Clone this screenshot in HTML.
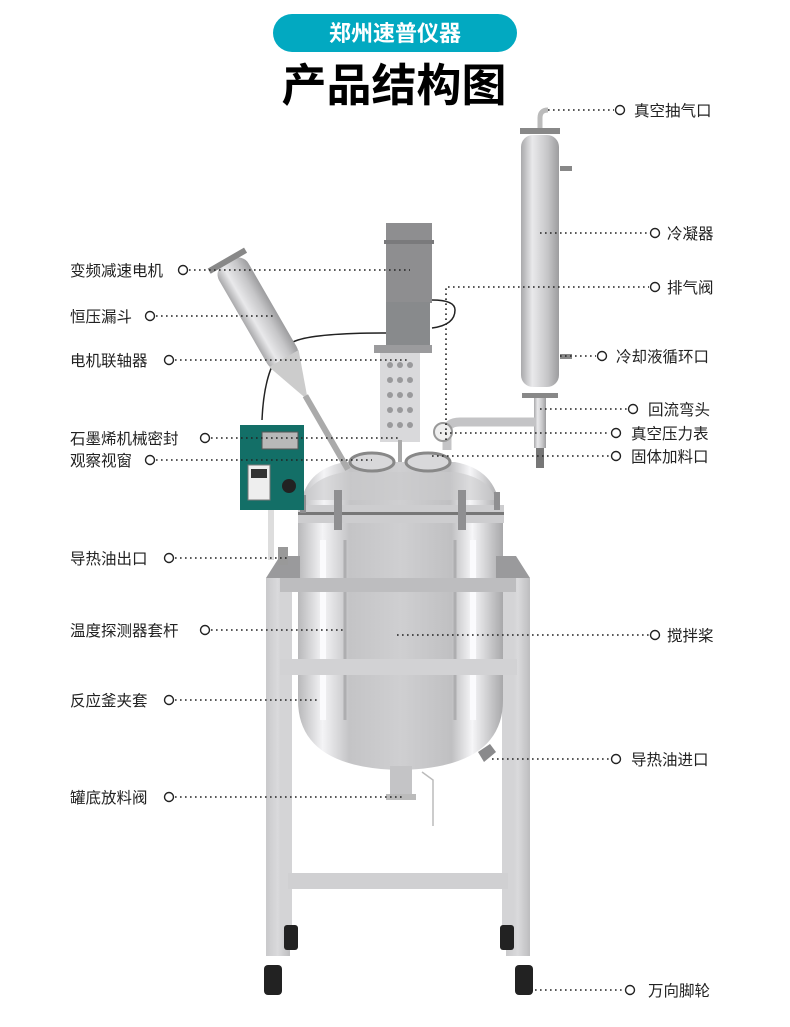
<!DOCTYPE html>
<html><head><meta charset="utf-8"><style>
html,body{margin:0;padding:0;background:#fff;}
svg{display:block;}
text{font-family:"Liberation Sans","Noto Sans CJK SC",sans-serif;}
</style></head><body>
<svg width="790" height="1027" viewBox="0 0 790 1027" xmlns="http://www.w3.org/2000/svg">
<defs>
<linearGradient id="steel" x1="0" x2="1" y1="0" y2="0">
<stop offset="0" stop-color="#b8b8ba"/><stop offset="0.12" stop-color="#f4f4f6"/><stop offset="0.25" stop-color="#c4c4c6"/><stop offset="0.5" stop-color="#cfcfd1"/><stop offset="0.75" stop-color="#c0c0c2"/><stop offset="0.85" stop-color="#f6f6f8"/><stop offset="1" stop-color="#a8a8aa"/></linearGradient>
<linearGradient id="tube" x1="0" x2="1"><stop offset="0" stop-color="#a9a9ab"/><stop offset="0.3" stop-color="#e9e9eb"/><stop offset="0.7" stop-color="#c6c6c8"/><stop offset="1" stop-color="#9c9c9e"/></linearGradient>
<linearGradient id="leg" x1="0" x2="1"><stop offset="0" stop-color="#c9c9cb"/><stop offset="0.5" stop-color="#dadadc"/><stop offset="1" stop-color="#bdbdbf"/></linearGradient>
</defs>
<!-- header -->
<rect x="273" y="14" width="244" height="38" rx="19" fill="#02a9c1"/>
<text x="395" y="41" font-size="22" fill="#fff" text-anchor="middle" font-weight="bold">郑州速普仪器</text>
<text x="394" y="101" font-size="45" fill="#000" text-anchor="middle" font-weight="bold">产品结构图</text>

<!-- frame -->
<rect x="266" y="578" width="24" height="378" fill="url(#leg)"/>
<rect x="506" y="578" width="24" height="378" fill="url(#leg)"/>
<rect x="280" y="580" width="12" height="350" fill="#d4d4d6"/>
<rect x="502" y="580" width="12" height="350" fill="#d4d4d6"/>
<rect x="288" y="873" width="220" height="16" fill="#d0d0d2"/>
<!-- vessel -->
<path d="M298 520 L503 520 L503 700 Q503 768 400 770 Q298 768 298 700 Z" fill="url(#steel)"/>
<path d="M345 540 L345 720 M455 540 L455 720" stroke="#aeaeb0" stroke-width="3"/>
<rect x="320" y="540" width="6" height="180" fill="#fbfbfd"/>
<rect x="470" y="540" width="6" height="180" fill="#fbfbfd"/>
<!-- top bands -->
<path d="M266 578 L280 556 L300 556 L300 578 Z" fill="#9a9a9c"/>
<path d="M530 578 L516 556 L496 556 L496 578 Z" fill="#9a9a9c"/>
<rect x="280" y="578" width="236" height="14" fill="#bdbdbf"/>
<rect x="280" y="659" width="237" height="16" fill="#d2d2d4"/>
<!-- bottom valve -->
<rect x="390" y="766" width="22" height="30" fill="#c4c4c6"/>
<rect x="386" y="794" width="30" height="6" fill="#bbb"/>
<path d="M422 772 L433 780 L433 826" stroke="#bbb" stroke-width="1.5" fill="none"/>
<path d="M478 752 L490 744 L496 752 L484 762 Z" fill="#8a8a8c"/>
<!-- lid -->
<path d="M300 512 Q302 470 345 462 L455 462 Q498 470 500 512 Z" fill="url(#steel)"/>
<path d="M304 500 Q310 478 345 472 L455 472 Q490 478 496 500 Z" fill="#c9c9cb" opacity="0.6"/>
<rect x="298" y="505" width="206" height="18" fill="#cdcdcf"/>
<rect x="298" y="512" width="206" height="3" fill="#777"/>
<g fill="#8f8f91">
<rect x="334" y="490" width="8" height="40"/><rect x="458" y="490" width="8" height="40"/>
<rect x="300" y="495" width="6" height="18"/><rect x="494" y="492" width="6" height="18"/>
</g>
<!-- ports on lid -->
<ellipse cx="372" cy="462" rx="22" ry="9" fill="#d8d8da" stroke="#888" stroke-width="3"/>
<ellipse cx="428" cy="462" rx="22" ry="9" fill="#d8d8da" stroke="#888" stroke-width="3"/>
<!-- coupling -->
<rect x="380" y="352" width="40" height="90" fill="#d9d9db"/>
<rect x="398" y="440" width="4" height="22" fill="#aaa"/>
<g fill="#9a9a9c">
<circle cx="390" cy="365" r="3"/><circle cx="400" cy="365" r="3"/><circle cx="410" cy="365" r="3"/>
<circle cx="390" cy="380" r="3"/><circle cx="400" cy="380" r="3"/><circle cx="410" cy="380" r="3"/>
<circle cx="390" cy="395" r="3"/><circle cx="400" cy="395" r="3"/><circle cx="410" cy="395" r="3"/>
<circle cx="390" cy="410" r="3"/><circle cx="400" cy="410" r="3"/><circle cx="410" cy="410" r="3"/>
<circle cx="390" cy="425" r="3"/><circle cx="400" cy="425" r="3"/><circle cx="410" cy="425" r="3"/>
</g>
<!-- motor -->
<rect x="386" y="223" width="46" height="80" fill="#8e8e90"/>
<rect x="384" y="240" width="50" height="4" fill="#7a7a7c"/>
<rect x="386" y="302" width="44" height="45" fill="#888a8c"/>
<rect x="374" y="345" width="58" height="8" fill="#9b9b9d"/>
<path d="M432 300 Q455 300 455 310 Q455 325 432 328" stroke="#222" stroke-width="1.5" fill="none"/>
<path d="M386 333 Q320 333 298 340 Q265 350 262 420" stroke="#222" stroke-width="1.5" fill="none"/>
<!-- condenser -->
<path d="M540 128 L540 118 Q540 110 548 110" stroke="#bbb" stroke-width="5" fill="none"/>
<rect x="520" y="128" width="40" height="6" fill="#888"/>
<rect x="521" y="135" width="38" height="252" rx="12" fill="url(#tube)"/>
<rect x="560" y="166" width="12" height="5" fill="#888"/>
<rect x="560" y="354" width="12" height="5" fill="#888"/>
<rect x="522" y="393" width="36" height="5" fill="#888"/>
<rect x="534" y="398" width="12" height="50" fill="url(#tube)"/>
<rect x="536" y="448" width="8" height="20" fill="#777"/>
<path d="M447 450 L447 432 Q447 422 460 422 L536 422" stroke="#c4c4c6" stroke-width="9" fill="none"/>
<circle cx="443" cy="432" r="9" fill="#eee" stroke="#999" stroke-width="2"/>
<!-- funnel -->
<g transform="rotate(-30 272 340)">
<rect x="256" y="250" width="34" height="120" rx="12" fill="url(#tube)"/>
<path d="M256 362 L273 410 L290 362 Z" fill="#ccc"/>
<rect x="270" y="405" width="6" height="85" fill="#aaa"/>
<rect x="252" y="246" width="42" height="6" fill="#888"/>
</g>
<!-- controller -->
<rect x="240" y="425" width="64" height="85" fill="#136f67"/>
<rect x="262" y="432" width="36" height="17" fill="#b8b8b8" stroke="#555"/>
<rect x="248" y="465" width="22" height="35" fill="#eee" stroke="#777"/>
<rect x="251" y="469" width="16" height="9" fill="#333"/>
<circle cx="289" cy="486" r="7" fill="#222"/>
<rect x="268" y="510" width="6" height="50" fill="#ddd"/>
<rect x="278" y="547" width="10" height="18" fill="#999"/>
<!-- casters -->
<g fill="#222">
<rect x="284" y="925" width="14" height="25" rx="3"/><rect x="500" y="925" width="14" height="25" rx="3"/>
<rect x="264" y="965" width="18" height="30" rx="4"/><rect x="515" y="965" width="18" height="30" rx="4"/>
</g>

<!-- leaders -->
<g stroke="#222" stroke-width="1.6" stroke-dasharray="1.6 3.4" fill="none">
<path d="M189 270 H410"/><path d="M156 316 H273"/><path d="M175 360 H410"/>
<path d="M211 438 H400"/><path d="M156 460 H372"/><path d="M175 558 H287"/>
<path d="M211 630 H346"/><path d="M175 700 H318"/><path d="M175 797 H403"/>
<path d="M548 110 H614"/><path d="M540 233 H649"/><path d="M446 440 V287 H649"/>
<path d="M560 356 H596"/><path d="M540 409 H627"/><path d="M440 433 H610"/>
<path d="M432 456 H610"/><path d="M397 635 H649"/><path d="M492 759 H610"/>
<path d="M520 990 H624"/>
</g>
<g stroke="#222" stroke-width="1.4" fill="#fff">
<circle cx="183" cy="270" r="4.5"/><circle cx="150" cy="316" r="4.5"/><circle cx="169" cy="360" r="4.5"/>
<circle cx="205" cy="438" r="4.5"/><circle cx="150" cy="460" r="4.5"/><circle cx="169" cy="558" r="4.5"/>
<circle cx="205" cy="630" r="4.5"/><circle cx="169" cy="700" r="4.5"/><circle cx="169" cy="797" r="4.5"/>
<circle cx="620" cy="110" r="4.5"/><circle cx="655" cy="233" r="4.5"/><circle cx="655" cy="287" r="4.5"/>
<circle cx="602" cy="356" r="4.5"/><circle cx="633" cy="409" r="4.5"/><circle cx="616" cy="433" r="4.5"/>
<circle cx="616" cy="456" r="4.5"/><circle cx="655" cy="635" r="4.5"/><circle cx="616" cy="759" r="4.5"/>
<circle cx="630" cy="990" r="4.5"/>
</g>
<g font-size="15.5" fill="#222">
<text x="70" y="276">变频减速电机</text>
<text x="70" y="322">恒压漏斗</text>
<text x="70" y="366">电机联轴器</text>
<text x="70" y="444">石墨烯机械密封</text>
<text x="70" y="466">观察视窗</text>
<text x="70" y="564">导热油出口</text>
<text x="70" y="636">温度探测器套杆</text>
<text x="70" y="706">反应釜夹套</text>
<text x="70" y="803">罐底放料阀</text>
<text x="634" y="116">真空抽气口</text>
<text x="667" y="239">冷凝器</text>
<text x="667" y="293">排气阀</text>
<text x="616" y="362">冷却液循环口</text>
<text x="648" y="415">回流弯头</text>
<text x="631" y="439">真空压力表</text>
<text x="631" y="462">固体加料口</text>
<text x="667" y="641">搅拌桨</text>
<text x="631" y="765">导热油进口</text>
<text x="648" y="996">万向脚轮</text>
</g>
</svg>
</body></html>
